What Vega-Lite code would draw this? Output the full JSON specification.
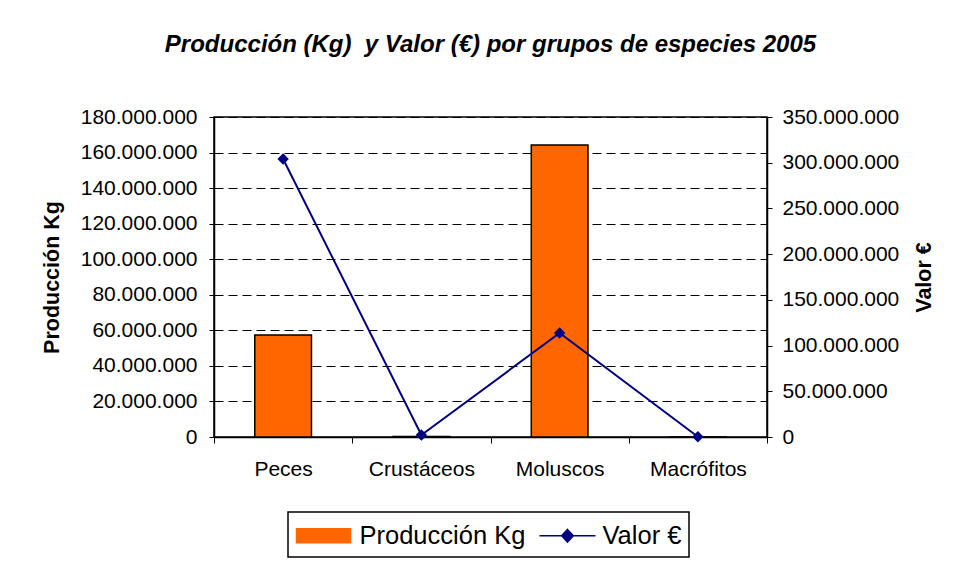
{
  "$schema": "https://vega.github.io/schema/vega-lite/v6.json",
  "width": 553,
  "height": 320,
  "autosize": {"type": "none"},
  "padding": {"left": 214, "top": 117, "right": 188, "bottom": 124},
  "background": "white",
  "title": {
    "text": "Producción (Kg)\u00a0 y Valor (€) por grupos de especies 2005",
    "font": "Liberation Sans",
    "fontSize": 24,
    "fontStyle": "italic",
    "fontWeight": "bold",
    "color": "black",
    "anchor": "middle",
    "baseline": "alphabetic",
    "offset": 30
  },
  "data": {
    "values": [
      {"grupo": "Peces", "prod": 57400000, "valor": 304000000},
      {"grupo": "Crustáceos", "prod": 300000, "valor": 2200000},
      {"grupo": "Moluscos", "prod": 164200000, "valor": 113700000},
      {"grupo": "Macrófitos", "prod": 50000, "valor": 300000}
    ]
  },
  "layer": [
    {
      "mark": {"type": "bar", "stroke": "black", "strokeWidth": 1.5, "width": {"band": 0.41}},
      "encoding": {
        "x": {
          "field": "grupo", "type": "nominal", "sort": null,
          "scale": {"paddingInner": 0, "paddingOuter": 0},
          "axis": {
            "title": null, "labelFont": "Liberation Sans", "labelFontSize": 21, "labelColor": "black",
            "labelAngle": 0, "tickBand": "extent", "tickSize": 6, "tickColor": "black",
            "domainColor": "black", "domainWidth": 1.5, "labelPadding": 15, "grid": false
          }
        },
        "y": {
          "field": "prod", "type": "quantitative",
          "scale": {"domain": [0, 180000000], "nice": false},
          "axis": {
            "title": "Producción Kg", "titleFont": "Liberation Sans", "titleFontSize": 21.5,
            "titleFontWeight": "bold", "titleColor": "black", "titlePadding": 17,
            "labelFont": "Liberation Sans", "labelFontSize": 21, "labelColor": "black",
            "format": ",.0f",
            "values": [0, 20000000, 40000000, 60000000, 80000000, 100000000, 120000000, 140000000, 160000000, 180000000],
            "grid": true, "gridDash": [9, 5], "gridColor": "black", "gridWidth": 1, "gridOpacity": 1,
            "tickSize": 5, "tickColor": "black", "labelPadding": 12, "domainColor": "black", "domainWidth": 1.5
          }
        },
        "color": {
          "datum": "Producción Kg",
          "scale": {"domain": ["Producción Kg", "Valor €"], "range": ["#FF6600", "#000080"]},
          "legend": {
            "orient": "none", "legendX": 74, "legendY": 395, "direction": "horizontal", "title": null,
            "strokeColor": "black", "padding": 7.5,
            "symbolSize": 900, "labelFont": "Liberation Sans", "labelFontSize": 25.5, "labelColor": "black",
            "labelLimit": 400, "labelOffset": 32, "columnPadding": 11, "symbolStrokeWidth": 1.5,
            "encode": {
              "legend": {"update": {"strokeWidth": {"value": 1.5}}},
              "symbols": {
                "update": {
                  "shape": {"signal": "datum.value === 'Valor €' ? 'M-1,0H2.733M0.867,-0.42L1.257,0L0.867,0.42L0.477,0Z' : 'M-1,-0.47H2.6V0.47H-1Z'"},
                  "fill": {"signal": "datum.value === 'Valor €' ? '#000080' : '#FF6600'"},
                  "stroke": {"signal": "datum.value === 'Valor €' ? '#000080' : 'black'"},
                  "strokeWidth": {"value": 1.5},
                  "opacity": {"value": 1},
                  "fillOpacity": {"value": 1}
                }
              }
            }
          }
        }
      }
    },
    {
      "mark": {
        "type": "line", "strokeWidth": 2,
        "point": {"filled": true, "shape": "diamond", "size": 130, "opacity": 1}
      },
      "encoding": {
        "x": {"field": "grupo", "type": "nominal", "sort": null},
        "y": {
          "field": "valor", "type": "quantitative",
          "scale": {"domain": [0, 350000000], "nice": false},
          "axis": {
            "orient": "right",
            "title": "Valor €", "titleFont": "Liberation Sans", "titleFontSize": 21.5,
            "titleFontWeight": "bold", "titleColor": "black", "titlePadding": 15, "titleAngle": 270, "titleBaseline": "top",
            "labelFont": "Liberation Sans", "labelFontSize": 21, "labelColor": "black",
            "format": ",.0f",
            "values": [0, 50000000, 100000000, 150000000, 200000000, 250000000, 300000000, 350000000],
            "grid": false, "tickSize": 5, "tickColor": "black", "labelPadding": 10,
            "domainColor": "black", "domainWidth": 1.5
          }
        },
        "color": {
          "datum": "Valor €",
          "legend": {
            "orient": "none", "legendX": 74, "legendY": 395, "direction": "horizontal", "title": null,
            "strokeColor": "black", "padding": 7.5,
            "symbolSize": 900, "labelFont": "Liberation Sans", "labelFontSize": 25.5, "labelColor": "black",
            "labelLimit": 400, "labelOffset": 32, "columnPadding": 11, "symbolStrokeWidth": 1.5,
            "encode": {
              "legend": {"update": {"strokeWidth": {"value": 1.5}}},
              "symbols": {
                "update": {
                  "shape": {"signal": "datum.value === 'Valor €' ? 'M-1,0H2.733M0.867,-0.42L1.257,0L0.867,0.42L0.477,0Z' : 'M-1,-0.47H2.6V0.47H-1Z'"},
                  "fill": {"signal": "datum.value === 'Valor €' ? '#000080' : '#FF6600'"},
                  "stroke": {"signal": "datum.value === 'Valor €' ? '#000080' : 'black'"},
                  "strokeWidth": {"value": 1.5},
                  "opacity": {"value": 1},
                  "fillOpacity": {"value": 1}
                }
              }
            }
          }
        }
      }
    }
  ],
  "resolve": {"scale": {"y": "independent"}},
  "config": {
    "locale": {"number": {"decimal": ",", "thousands": ".", "grouping": [3], "currency": ["", " €"]}},
    "view": {"stroke": "black", "strokeWidth": 1.5}
  }
}
